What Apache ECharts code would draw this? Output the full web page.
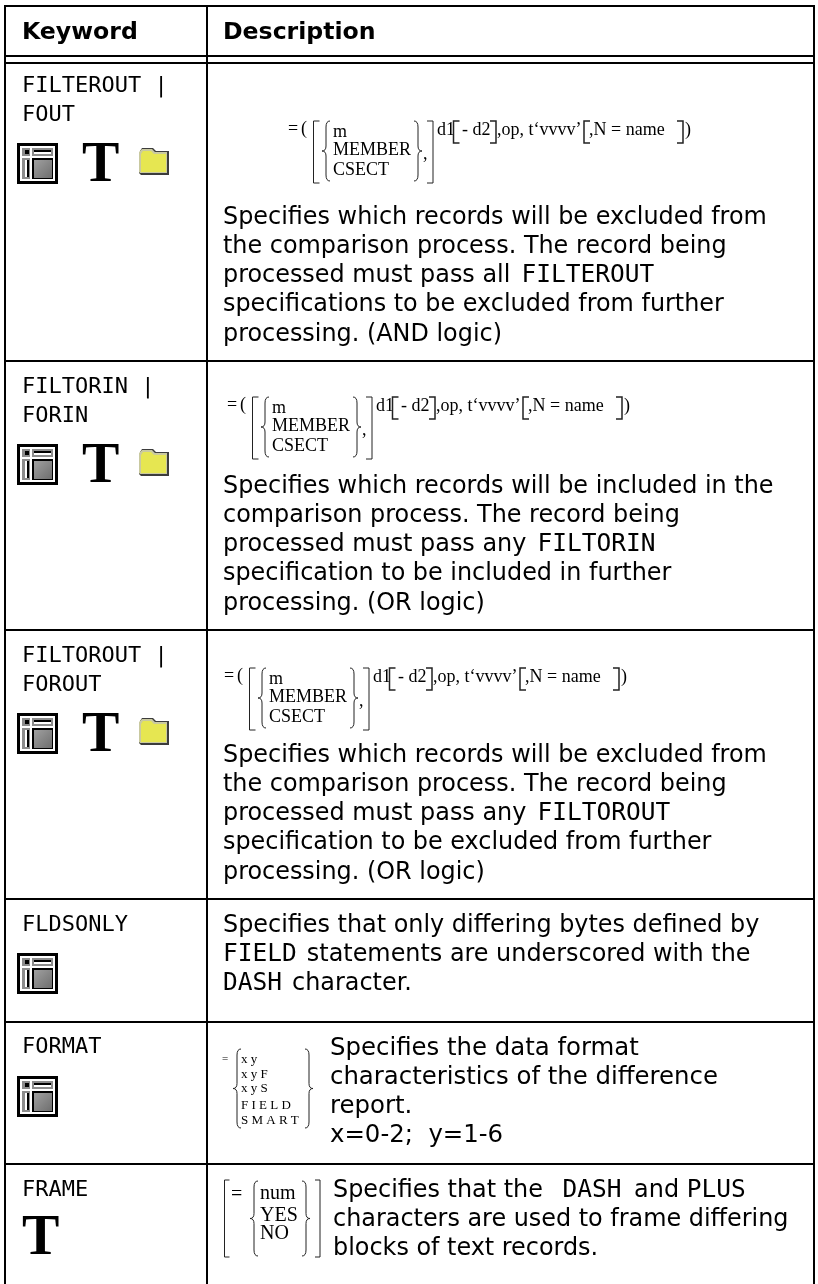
<!DOCTYPE html>
<html>
<head>
<meta charset="utf-8">
<title>Keyword table</title>
<script src="https://cdn.jsdelivr.net/npm/echarts@6/dist/echarts.min.js"></script>
<style>
  html, body { margin: 0; padding: 0; background: #fff; }
  #chart { width: 818px; height: 1284px; }
</style>
</head>
<body>
<div id="chart"></div>
<script>
// table content
var headers = ['Keyword', 'Description'];
var keywords = [
  ['FILTEROUT |', 'FOUT'],
  ['FILTORIN |', 'FORIN'],
  ['FILTOROUT |', 'FOROUT'],
  ['FLDSONLY'],
  ['FORMAT'],
  ['FRAME']
];
// *...* marks the monospace words
var descriptions = [
  ['Specifies which records will be excluded from', 'the comparison process. The record being', 'processed must pass all *FILTEROUT*', 'specifications to be excluded from further', 'processing. (AND logic)'],
  ['Specifies which records will be included in the', 'comparison process. The record being', 'processed must pass any *FILTORIN*', 'specification to be included in further', 'processing. (OR logic)'],
  ['Specifies which records will be excluded from', 'the comparison process. The record being', 'processed must pass any *FILTOROUT*', 'specification to be excluded from further', 'processing. (OR logic)'],
  ['Specifies that only differing bytes defined by', '*FIELD* statements are underscored with the', '*DASH* character.'],
  ['Specifies the data format', 'characteristics of the difference', 'report.', 'x=0-2;  y=1-6'],
  ['Specifies that the *DASH* and *PLUS*', 'characters are used to frame differing', 'blocks of text records.']
];
var rowIcons = [
  ['window', 'type', 'folder'],
  ['window', 'type', 'folder'],
  ['window', 'type', 'folder'],
  ['window'],
  ['window'],
  ['type']
];
var memberChoices = ['m', 'MEMBER', 'CSECT'];
var formatChoices = ['x y', 'x y F', 'x y S', 'F I E L D', 'S M A R T'];
var frameChoices = ['num', 'YES', 'NO'];

// layout
var SANS = "'DejaVu Sans'", MONO = "'DejaVu Sans Mono'", SERIF = "'Liberation Serif'";
var ruleX = [5, 207, 814];
var ruleY = [6, 56, 63, 361, 630, 899, 1022, 1164];
var rowKeyY = [92, 393, 662, 931, 1053, 1196];
var rowDescX = [223, 223, 223, 223, 330, 333];
var rowDescY = [224, 493, 762, 932, 1055, 1197];
var rowDescSize = [23.9, 23.9, 23.9, 23.9, 24.4, 23.9];
var rowMonoBefore = [3.5, 3.5, 3.5, 0, 0, 12];
var rowMonoAfter = [0, 0, 0, 2.5, 0, 5];
var rowIconY = [143, 444, 713, 953, 1076, 1218];
var formulaOffset = [[0, 0], [-61, 276], [-64, 547]];

var measure = document.createElement('canvas').getContext('2d');

echarts.graphic.registerShape('curlyBrace', echarts.graphic.extendShape({
  shape: { x: 0, y0: 0, y1: 0, dir: 1 },
  buildPath: function (ctx, s) {
    var d = 4 * s.dir, m = (s.y0 + s.y1) / 2;
    ctx.moveTo(s.x + d, s.y0);
    ctx.quadraticCurveTo(s.x, s.y0, s.x, s.y0 + 6);
    ctx.lineTo(s.x, m - 5);
    ctx.quadraticCurveTo(s.x, m, s.x - d, m);
    ctx.quadraticCurveTo(s.x, m, s.x, m + 5);
    ctx.lineTo(s.x, s.y1 - 6);
    ctx.quadraticCurveTo(s.x, s.y1, s.x + d, s.y1);
  }
}));

function textAt(str, x, baseline, size, family, weight) {
  var font = (weight || 'normal') + ' ' + size + 'px ' + family;
  measure.font = font;
  var m = measure.measureText(str);
  // 0.07em: found by eye, zrender's middle sits a little lower than the font box says
  var mid = (m.fontBoundingBoxAscent - m.fontBoundingBoxDescent) / 2 - 0.07 * size;
  return {
    type: 'text', x: x, y: baseline - mid, silent: true,
    style: { text: str, font: font, fill: '#000', align: 'left', verticalAlign: 'middle' }
  };
}

function textWidth(str, size, family) {
  measure.font = size + 'px ' + family;
  return measure.measureText(str).width;
}

function stroke(points, width) {
  return {
    type: 'polyline', silent: true,
    shape: { points: points },
    style: { stroke: '#222', fill: null, lineWidth: width || 1 }
  };
}

function rect(x, y, w, h, fill) {
  return { type: 'rect', silent: true, shape: { x: x, y: y, width: w, height: h }, style: { fill: fill } };
}

function openBracket(x, y0, y1, w, lw) {
  return stroke([[x + w, y0], [x, y0], [x, y1], [x + w, y1]], lw);
}

function closeBracket(x, y0, y1, w, lw) {
  return stroke([[x - w, y0], [x, y0], [x, y1], [x - w, y1]], lw);
}

// dir 1 is "{", dir -1 is "}"; x is the vertical stroke
function brace(x, y0, y1, dir) {
  return {
    type: 'curlyBrace', silent: true,
    shape: { x: x, y0: y0, y1: y1, dir: dir },
    style: { stroke: '#222', fill: null, lineWidth: 1 }
  };
}

function memberFormula(dx, dy) {
  var s = 18;
  var parts = [
    textAt('=', 288, 134, s, SERIF), textAt('(', 301, 134, s, SERIF),
    openBracket(313.5, 121, 183, 6), brace(326, 121, 181, 1),
    textAt(memberChoices[0], 333, 137, s, SERIF),
    textAt(memberChoices[1], 333, 155.5, s, SERIF),
    textAt(memberChoices[2], 333, 175, s, SERIF),
    brace(418, 121, 181, -1),
    textAt(',', 423, 159, s, SERIF),
    closeBracket(433, 121, 183, 6),
    textAt('d1', 437, 135, s, SERIF),
    openBracket(453.5, 121, 143, 6, 1.5),
    textAt('- d2', 462, 135, s, SERIF),
    closeBracket(496, 121, 143, 6, 1.5),
    textAt(',op, t\u2018vvvv\u2019', 497, 135, s, SERIF),
    openBracket(584, 121, 143, 6, 1.5),
    textAt(',N = name', 589, 135, s, SERIF),
    closeBracket(683, 121, 143, 6, 1.5),
    textAt(')', 685, 135, s, SERIF)
  ];
  return { type: 'group', x: dx, y: dy, silent: true, children: parts };
}

function formatFormula() {
  var s = 13, ys = [1063, 1078, 1092, 1109, 1124];
  var parts = [textAt('=', 222, 1062, 11, SERIF), brace(237, 1049, 1128, 1), brace(309, 1049, 1128, -1)];
  formatChoices.forEach(function (c, i) { parts.push(textAt(c, 241, ys[i], s, SERIF)); });
  return { type: 'group', silent: true, children: parts };
}

function frameFormula() {
  var s = 20, ys = [1199, 1221, 1239];
  var parts = [
    openBracket(224.5, 1180, 1257, 5), textAt('=', 231, 1200, s, SERIF),
    brace(254, 1181, 1256, 1), brace(306, 1181, 1256, -1),
    closeBracket(320, 1180, 1257, 5)
  ];
  frameChoices.forEach(function (c, i) { parts.push(textAt(c, 260, ys[i], s, SERIF)); });
  return { type: 'group', silent: true, children: parts };
}

function windowIcon(x, y) {
  return {
    type: 'group', x: x, y: y, silent: true,
    children: [
      rect(0, 0, 41, 41, '#000'),
      rect(3, 3, 35, 35, '#fff'),
      rect(5, 5, 31, 31, '#8c8c8c'),
      rect(8, 7, 4, 4, '#000'),
      rect(5, 13, 31, 2, '#fff'),
      rect(13, 5, 2, 31, '#fff'),
      rect(17, 7, 17, 2, '#000'),
      rect(17, 9, 17, 2, '#fff'),
      rect(8, 17, 2, 17, '#fff'),
      rect(10, 17, 2, 17, '#000'),
      rect(15, 15, 21, 21, '#000'),
      {
        type: 'rect', silent: true, shape: { x: 17, y: 17, width: 18, height: 18 },
        style: { fill: new echarts.graphic.LinearGradient(0, 0, 1, 1, [{ offset: 0, color: '#a0a0a0' }, { offset: 1, color: '#6e6e6e' }]) }
      }
    ]
  };
}

function typeIcon(x, y) {
  return textAt('T', x, y + 37, 56, SERIF, 'bold');
}

function folderIcon(x, y) {
  return {
    type: 'group', x: x, y: y, silent: true,
    children: [
      { type: 'polygon', silent: true, shape: { points: [[1, 3], [3, 0], [14, 0], [17, 3], [30, 3], [30, 27], [2, 27], [0, 25]] }, style: { fill: '#3c3c3c' } },
      { type: 'polygon', silent: true, shape: { points: [[0, 4], [3, 1], [13, 1], [16, 4], [28, 4], [28, 25], [1, 25], [0, 24]] }, style: { fill: '#c9c9a0' } },
      { type: 'polygon', silent: true, shape: { points: [[2, 6], [4, 3], [12, 3], [15, 6], [27, 6], [27, 24], [2, 24]] }, style: { fill: '#e6e651' } }
    ]
  };
}

var graphics = [];

// rules
ruleY.forEach(function (y) {
  graphics.push({ type: 'line', silent: true, shape: { x1: 4, y1: y, x2: 815, y2: y }, style: { stroke: '#000', lineWidth: 2 } });
});
ruleX.forEach(function (x) {
  graphics.push({ type: 'line', silent: true, shape: { x1: x, y1: 5, x2: x, y2: 1284 }, style: { stroke: '#000', lineWidth: 2 } });
});

// header
graphics.push(textAt(headers[0], 22, 39, 23.6, SANS, 'bold'));
graphics.push(textAt(headers[1], 223, 39, 23.6, SANS, 'bold'));

keywords.forEach(function (lines, r) {
  lines.forEach(function (line, i) {
    graphics.push(textAt(line, 22, rowKeyY[r] + i * 29, 22, MONO));
  });

  descriptions[r].forEach(function (line, i) {
    var x = rowDescX[r], base = rowDescY[r] + i * 29.2;
    line.split('*').forEach(function (piece, k) {
      if (!piece) return;
      var mono = k % 2 === 1;
      var size = mono ? 24.5 : rowDescSize[r];
      var family = mono ? MONO : SANS;
      if (k === 1) x += rowMonoBefore[r];
      graphics.push(textAt(piece, x, base, size, family));
      x += textWidth(piece, size, family);
      if (mono) x += rowMonoAfter[r];
    });
  });

  rowIcons[r].forEach(function (icon) {
    var y = rowIconY[r];
    if (icon === 'window') graphics.push(windowIcon(17, y));
    if (icon === 'type') graphics.push(typeIcon(r === 5 ? 22 : 82, r === 5 ? y : y + 2));
    if (icon === 'folder') graphics.push(folderIcon(139, y + 5));
  });
});

formulaOffset.forEach(function (o) { graphics.push(memberFormula(o[0], o[1])); });
graphics.push(formatFormula());
graphics.push(frameFormula());

var chart = echarts.init(document.getElementById('chart'), null, { renderer: 'canvas' });
chart.setOption({
  animation: false,
  backgroundColor: '#fff',
  graphic: { elements: graphics }
});
</script>
</body>
</html>
